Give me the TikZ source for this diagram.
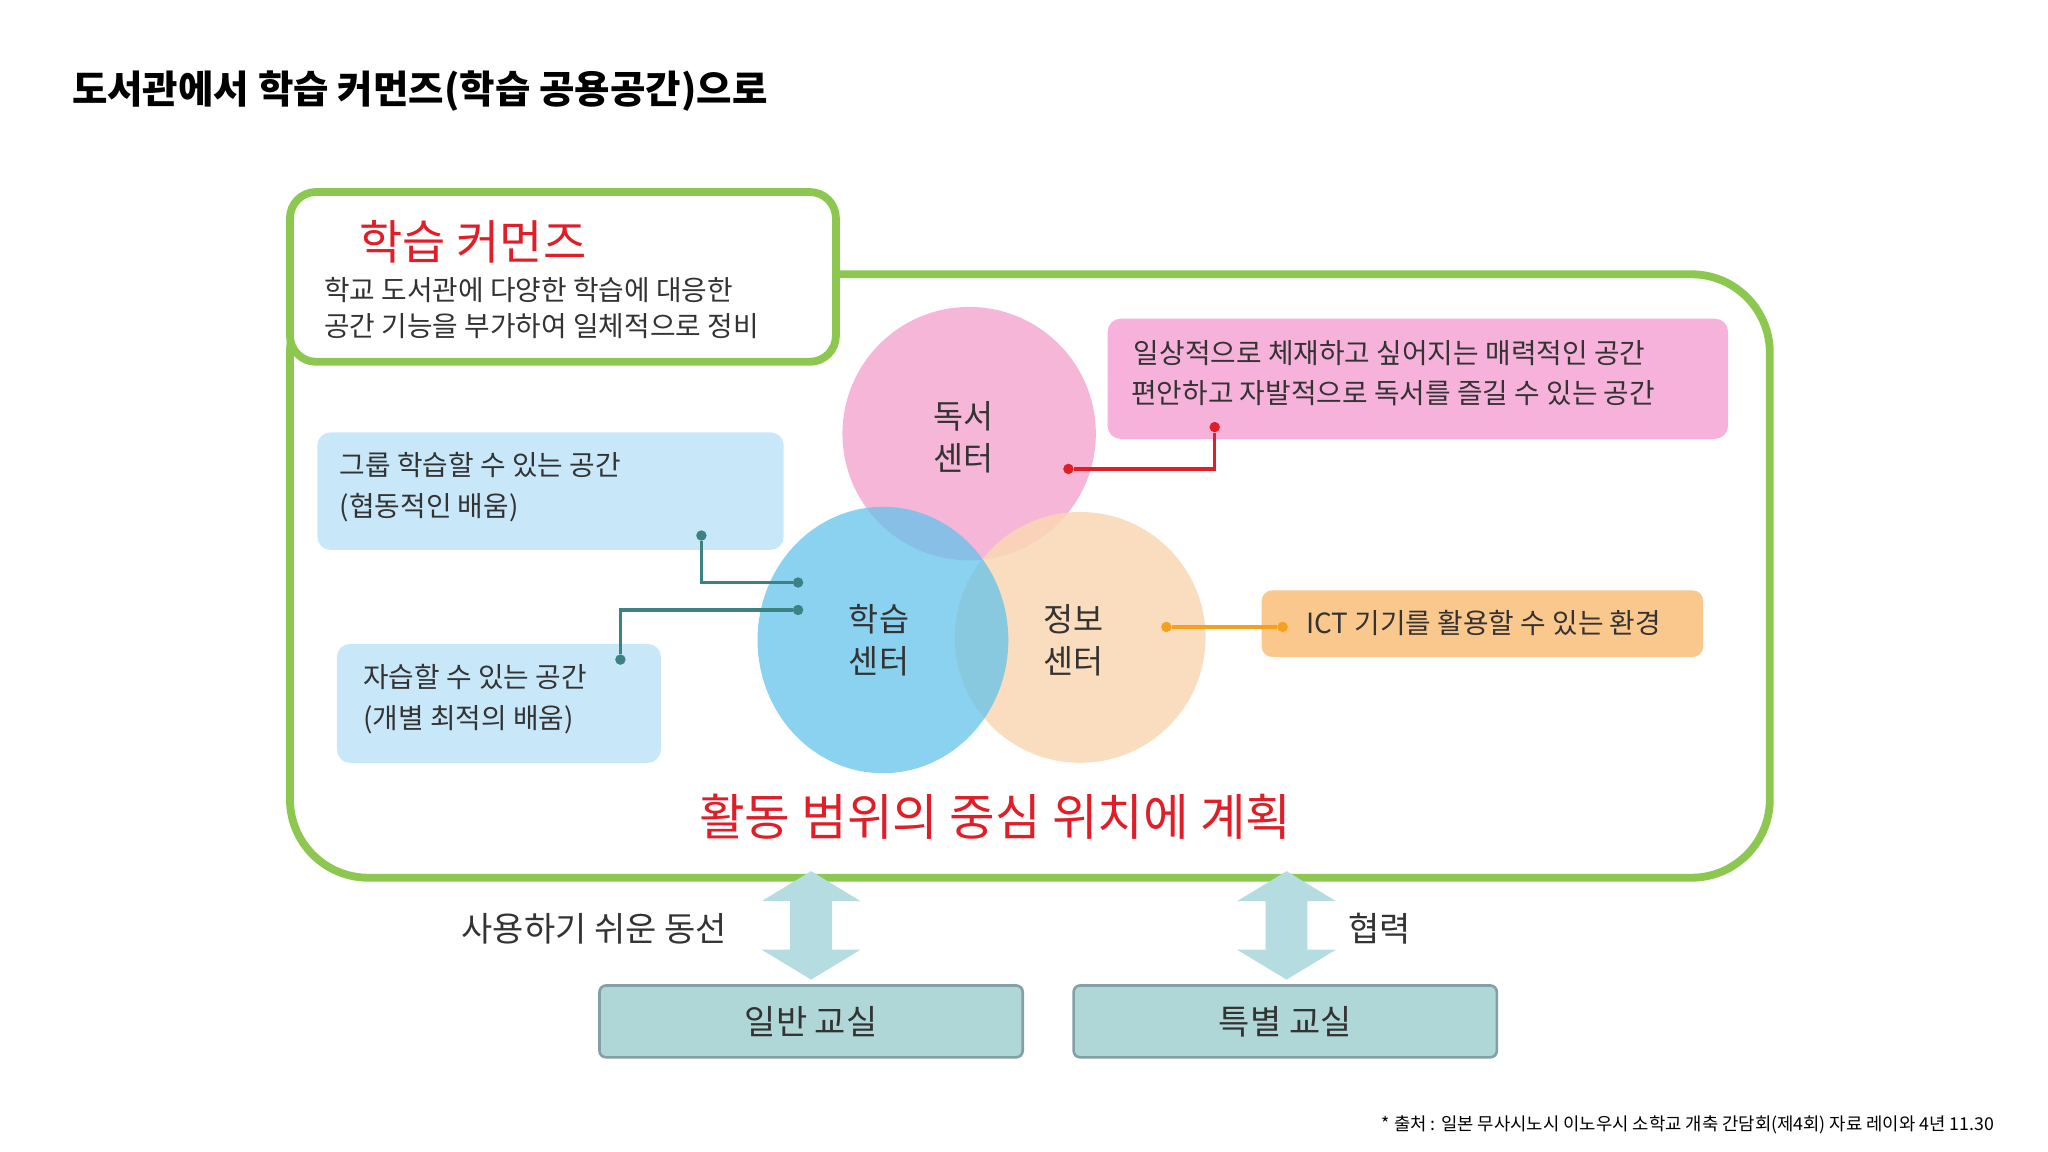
\documentclass[tikz,border=0pt]{standalone}
\usepackage{fontspec}
\setmainfont{Noto Sans CJK KR}
\begin{document}
\begin{tikzpicture}[x=1pt,y=-1pt,
  txt/.style={anchor=west,inner sep=0,font=\fontsize{21.3}{24}\selectfont,text=black!80},
  ctr/.style={align=center,font=\fontsize{25}{32}\selectfont,text=black!80},
  dotc/.style={circle,fill,inner sep=0,minimum size=8pt},
  darr/.style={fill=arrowc,draw=none},
  cls/.style={draw=clsb,line width=2pt,fill=clsf,rounded corners=5,minimum width=324pt,minimum height=55pt,font=\fontsize{26}{30}\selectfont,text=black!80}]
\definecolor{grn}{RGB}{140,200,80}
\definecolor{pinkb}{RGB}{246,178,218}
\definecolor{pinkc}{RGB}{245,170,210}
\definecolor{bluec}{RGB}{100,195,235}
\definecolor{orc}{RGB}{250,215,180}
\definecolor{lblue}{RGB}{200,232,250}
\definecolor{orb}{RGB}{250,200,140}
\definecolor{tealc}{RGB}{60,130,130}
\definecolor{orl}{RGB}{245,160,30}
\definecolor{redc}{RGB}{225,30,40}
\definecolor{arrowc}{RGB}{180,220,225}
\definecolor{clsf}{RGB}{175,215,215}
\definecolor{clsb}{RGB}{130,160,165}
\useasboundingbox (0,0) rectangle (1568,882);
\fill[white] (0,0) rectangle (1568,882);
\node[anchor=west,inner sep=0,font=\fontsize{29.5}{34}\selectfont\bfseries] (title) at (55,70) {도서관에서 학습 커먼즈(학습 공용공간)으로};
% big frame
\draw[grn,line width=6pt,rounded corners=60] (222,210) rectangle (1355,672);
% circles
\fill[pinkc,opacity=0.85] (742,332) circle[radius=97];
\fill[orc,opacity=0.85] (827,488) circle[radius=96];
\fill[bluec,opacity=0.75] (676,490) ellipse[x radius=96,y radius=102];
\node[ctr] (dok) at (738,335) {독서\\센터};
\node[ctr] (hak) at (673,490) {학습\\센터};
\node[ctr] (jeong) at (822,490) {정보\\센터};
% header box
\draw[grn,line width=6pt,fill=white,rounded corners=20] (222,147) rectangle (640,277);
\node[anchor=west,inner sep=0,text=redc,font=\fontsize{36}{40}\selectfont] (hc) at (275,185) {학습 커먼즈};
\node[txt] (h1) at (248,222) {학교 도서관에 다양한 학습에 대응한};
\node[txt] (h2) at (248,250) {공간 기능을 부가하여 일체적으로 정비};
% pink box
\fill[pinkb,rounded corners=10] (848,244) rectangle (1323,336);
\node[txt] (p1) at (868,270) {일상적으로 체재하고 싶어지는 매력적인 공간};
\node[txt] (p2) at (866,301) {편안하고 자발적으로 독서를 즐길 수 있는 공간};
% blue boxes
\fill[lblue,rounded corners=10] (243,331) rectangle (600,421);
\node[txt] (b1) at (260,356) {그룹 학습할 수 있는 공간};
\node[txt] (b2) at (260,389) {(협동적인 배움)};
\fill[lblue,rounded corners=10] (258,493) rectangle (506,584);
\node[txt] (c1) at (278,518) {자습할 수 있는 공간};
\node[txt] (c2) at (278,551) {(개별 최적의 배움)};
% orange box
\fill[orb,rounded corners=8] (966,452) rectangle (1304,503);
\node[txt] (ict) at (1000,477) {ICT 기기를 활용할 수 있는 환경};
% connectors
\node[dotc,fill=redc] (r1) at (818,359) {};
\node[dotc,fill=redc] (r2) at (930,327) {};
\draw[redc,line width=2.5pt] (r1) -| (r2);
\node[dotc,fill=tealc] (t1) at (537,410) {};
\node[dotc,fill=tealc] (t2) at (611,446) {};
\draw[tealc,line width=2.5pt] (t1) |- (t2);
\node[dotc,fill=tealc] (t3) at (475,505) {};
\node[dotc,fill=tealc] (t4) at (611,467) {};
\draw[tealc,line width=2.5pt] (t3) |- (t4);
\node[dotc,fill=orl] (o1) at (893,480) {};
\node[dotc,fill=orl] (o2) at (982,480) {};
\draw[orl,line width=2.5pt] (o1) -- (o2);
% red text
\node[text=redc,font=\fontsize{38}{44}\selectfont] (plan) at (762,625) {활동 범위의 중심 위치에 계획};
% double arrows
\foreach \xx in {621,985}{
 \fill[darr] (\xx,667) -- (\xx+38,690) -- (\xx+16,690) -- (\xx+16,727) -- (\xx+38,727) -- (\xx,750) -- (\xx-38,727) -- (\xx-16,727) -- (\xx-16,690) -- (\xx-38,690) -- cycle;
}
\node[font=\fontsize{26}{30}\selectfont,text=black!80] (l1) at (455,711) {사용하기 쉬운 동선};
\node[font=\fontsize{26}{30}\selectfont,text=black!80] (l2) at (1056,711) {협력};
\node[cls] (gen) at (621,782) {일반 교실};
\node[cls] (spe) at (984,782) {특별 교실};
\node[anchor=east,inner sep=0,font=\fontsize{13.6}{15}\selectfont] (src) at (1527,861) {* 출처 : 일본 무사시노시 이노우시 소학교 개축 간담회(제4회) 자료 레이와 4년 11.30};
\end{tikzpicture}
\end{document}
